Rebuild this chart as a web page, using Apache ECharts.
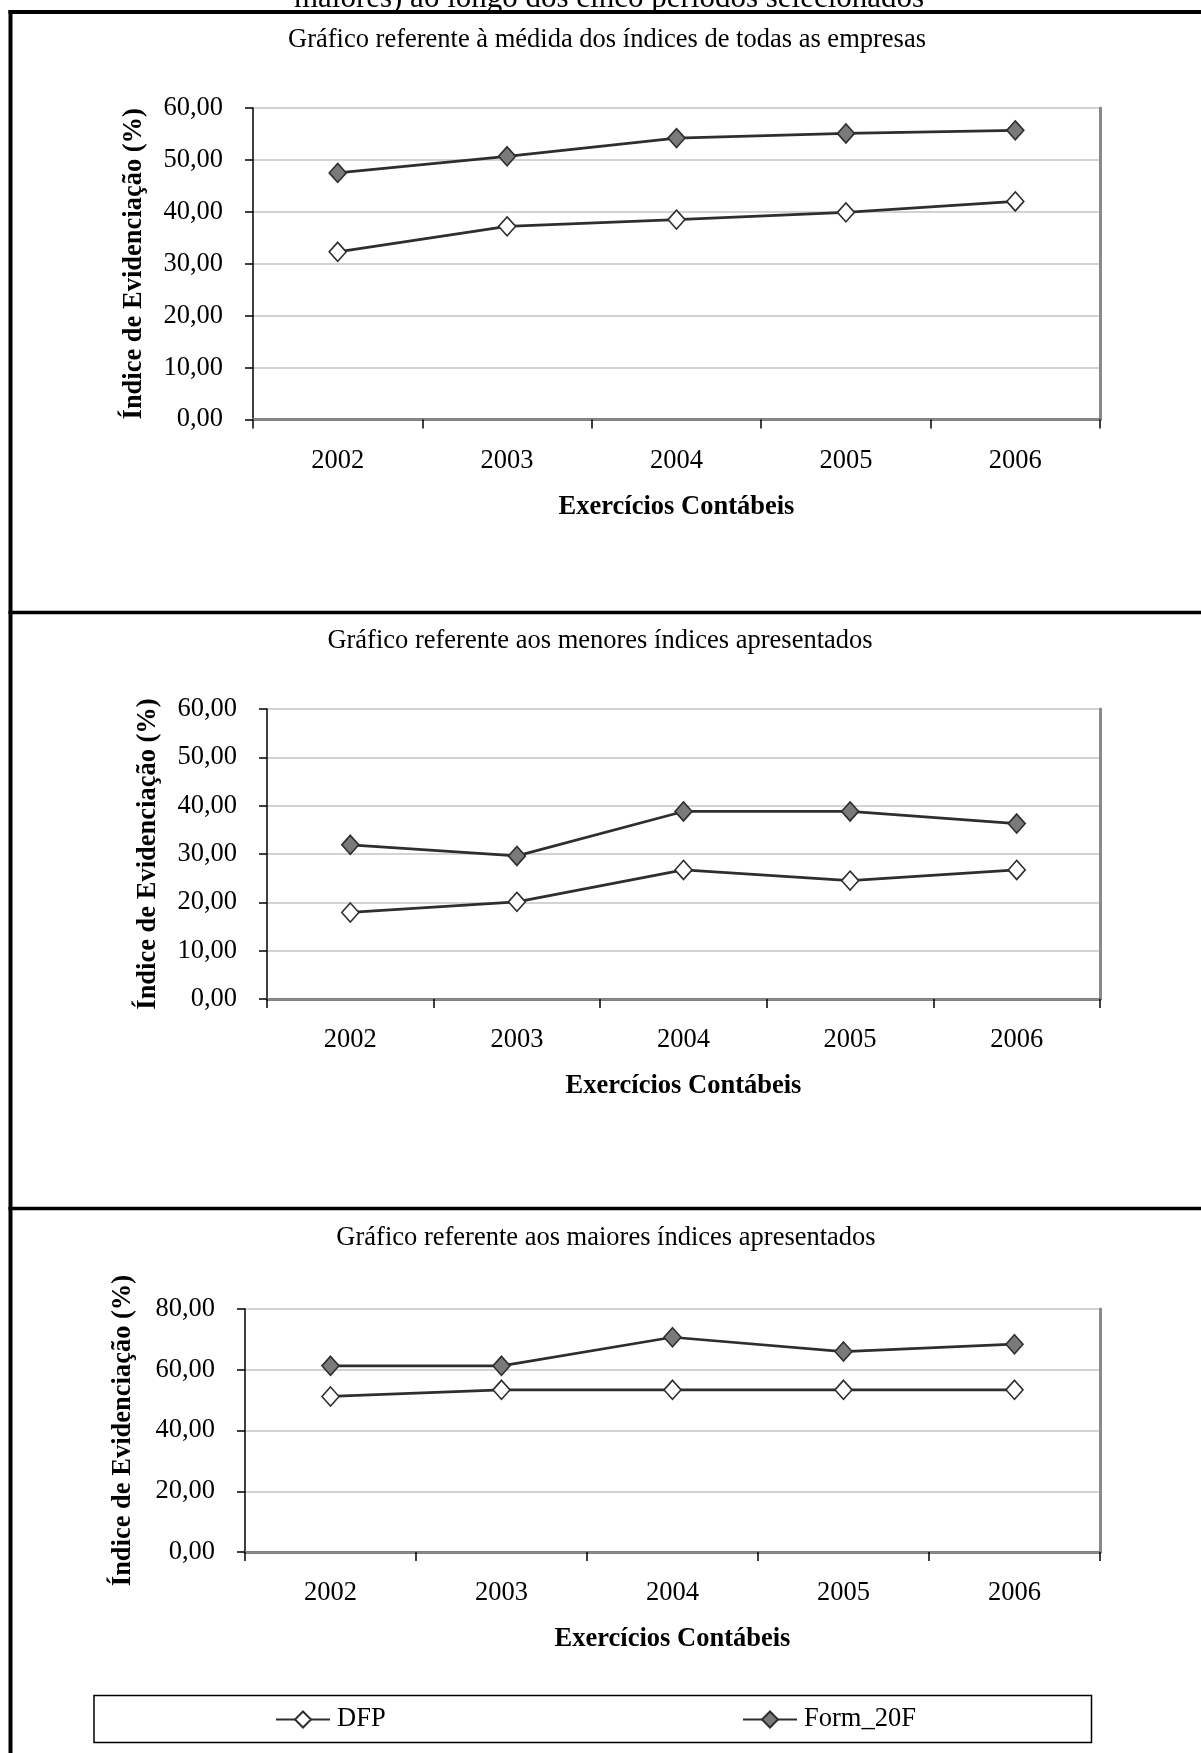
<!DOCTYPE html>
<html>
<head>
<meta charset="utf-8">
<script src="https://cdn.jsdelivr.net/npm/echarts@6/dist/echarts.min.js"></script>
<style>
  html, body { margin: 0; padding: 0; background: #fff; }
  #painel { width: 1201px; height: 1753px; }
</style>
</head>
<body>
<div id="painel"></div>
<script>
// Exercícios contábeis (categorias do eixo X)
const anos = ['2002', '2003', '2004', '2005', '2006'];

// Média dos índices de todas as empresas (%)
const mediaDFP = [32.3, 37.2, 38.5, 39.9, 42.0];
const mediaForm20F = [47.5, 50.7, 54.2, 55.1, 55.7];

// Menores índices apresentados (%)
const menoresDFP = [17.9, 20.1, 26.7, 24.5, 26.7];
const menoresForm20F = [31.9, 29.6, 38.8, 38.8, 36.3];

// Maiores índices apresentados (%)
const maioresDFP = [51.2, 53.4, 53.4, 53.4, 53.4];
const maioresForm20F = [61.3, 61.3, 70.7, 66.0, 68.4];

const titulosGraficos = [
  'Gráfico referente à médida dos índices de todas as empresas',
  'Gráfico referente aos menores índices apresentados',
  'Gráfico referente aos maiores índices apresentados'
];
const legendaNomes = ['DFP', 'Form_20F'];
const rotuloY = 'Índice de Evidenciação (%)';
const rotuloX = 'Exercícios Contábeis';
const legendaFigura = 'maiores) ao longo dos cinco períodos selecionados';

const FONTE = "'Liberation Serif', 'Times New Roman', serif";
const COR_LINHA = '#2e2e2e';

// Disposição dos três quadros
const quadros = [
  { left: 253, top: 108, width: 847, height: 311.5, max: 60, interval: 10, tituloX: 607, tituloY: 40, gapY: 105, dfp: mediaDFP, form: mediaForm20F },
  { left: 267, top: 709, width: 833, height: 290, max: 60, interval: 10, tituloX: 600, tituloY: 641, gapY: 105, dfp: menoresDFP, form: menoresForm20F },
  { left: 245, top: 1309, width: 855, height: 243, max: 80, interval: 20, tituloX: 606, tituloY: 1238, gapY: 108, dfp: maioresDFP, form: maioresForm20F }
];

const formatar = v => v.toFixed(2).replace('.', ',');

const grid = [], xAxis = [], yAxis = [], series = [];

quadros.forEach((q, i) => {
  grid.push({ left: q.left, top: q.top, width: q.width, height: q.height });

  // eixo X principal (base)
  xAxis.push({
    type: 'category', gridIndex: i, data: anos, boundaryGap: true, position: 'bottom',
    axisLine: { show: true, lineStyle: { color: '#333', width: 2.5 } },
    axisTick: { show: true, interval: 0, length: 9, lineStyle: { color: '#000', width: 1.5 } },
    axisLabel: { interval: 0, margin: 28, color: '#000', fontSize: 26.5, fontFamily: FONTE },
    splitLine: { show: false },
    name: rotuloX, nameLocation: 'middle', nameGap: 74,
    nameTextStyle: { color: '#000', fontSize: 26.5, fontWeight: 'bold', fontFamily: FONTE }
  });
  // borda superior da área de plotagem
  xAxis.push({
    type: 'category', gridIndex: i, data: anos, position: 'top',
    axisLine: { show: true, lineStyle: { color: '#8a8a8a', width: 2.5 } },
    axisTick: { show: false }, axisLabel: { show: false }, splitLine: { show: false }
  });

  // eixo Y principal (esquerda)
  yAxis.push({
    type: 'value', gridIndex: i, position: 'left', min: 0, max: q.max, interval: q.interval,
    axisLine: { show: true, lineStyle: { color: '#000', width: 1.5 } },
    axisTick: { show: true, length: 8, lineStyle: { color: '#000', width: 1.5 } },
    axisLabel: { formatter: formatar, margin: 30, color: '#000', fontSize: 26.5, fontFamily: FONTE },
    splitLine: { show: true, lineStyle: { color: '#c4c4c4', width: 1.5 } },
    name: rotuloY, nameLocation: 'middle', nameGap: q.gapY,
    nameTextStyle: { color: '#000', fontSize: 26.5, fontWeight: 'bold', fontFamily: FONTE }
  });
  // borda direita da área de plotagem
  yAxis.push({
    type: 'value', gridIndex: i, position: 'right', min: 0, max: q.max, interval: q.interval,
    axisLine: { show: true, lineStyle: { color: '#8a8a8a', width: 3 } },
    axisTick: { show: false }, axisLabel: { show: false }, splitLine: { show: false }
  });

  const estilo = (preenchimento) => ({
    type: 'line', xAxisIndex: 2 * i, yAxisIndex: 2 * i,
    symbol: 'diamond', symbolSize: [17, 19], showSymbol: true,
    lineStyle: { color: COR_LINHA, width: 2.75 },
    itemStyle: { color: preenchimento, borderColor: COR_LINHA, borderWidth: 1.6 },
    emphasis: { disabled: true }, z: 5
  });
  series.push(Object.assign(estilo('#ffffff'), { name: legendaNomes[0], data: q.dfp }));
  series.push(Object.assign(estilo('#7a7a7a'), { name: legendaNomes[1], data: q.form }));
});

const legendaBase = {
  orient: 'horizontal', padding: 0, itemWidth: 54, itemHeight: 20, itemGap: 0,
  selectedMode: false, top: 1706,
  textStyle: { color: '#000', fontSize: 26.5, fontFamily: FONTE, padding: [0, 0, 0, 2] }
};

const graphic = [
  // legenda da figura, parcialmente cortada no topo
  { type: 'text', x: 609, y: 14, z: 1,
    style: { text: legendaFigura, align: 'center', verticalAlign: 'bottom', fill: '#000', font: '31px ' + FONTE } },
  // moldura e divisórias da tabela
  { type: 'line', z: 10, shape: { x1: 8.5, y1: 12, x2: 1201, y2: 12 }, style: { stroke: '#000', lineWidth: 4 } },
  { type: 'line', z: 10, shape: { x1: 10.5, y1: 10, x2: 10.5, y2: 1753 }, style: { stroke: '#000', lineWidth: 4 } },
  { type: 'line', z: 10, shape: { x1: 8.5, y1: 612.5, x2: 1201, y2: 612.5 }, style: { stroke: '#000', lineWidth: 3.5 } },
  { type: 'line', z: 10, shape: { x1: 8.5, y1: 1208.5, x2: 1201, y2: 1208.5 }, style: { stroke: '#000', lineWidth: 3.5 } },
  // caixa da legenda
  { type: 'rect', z: 1, shape: { x: 94, y: 1695.5, width: 997.5, height: 47 },
    style: { fill: 'none', stroke: '#000', lineWidth: 1.5 } }
];
quadros.forEach((q, i) => {
  graphic.push({ type: 'text', x: q.tituloX, y: q.tituloY,
    style: { text: titulosGraficos[i], align: 'center', verticalAlign: 'middle', fill: '#000', font: '26.5px ' + FONTE } });
});

const grafico = echarts.init(document.getElementById('painel'), null, { renderer: 'canvas' });
grafico.setOption({
  animation: false,
  backgroundColor: '#ffffff',
  grid, xAxis, yAxis, series,
  legend: [
    Object.assign({}, legendaBase, { data: [legendaNomes[0]], left: 275 }),
    Object.assign({}, legendaBase, { data: [legendaNomes[1]], left: 742 })
  ],
  graphic
});
</script>
</body>
</html>
